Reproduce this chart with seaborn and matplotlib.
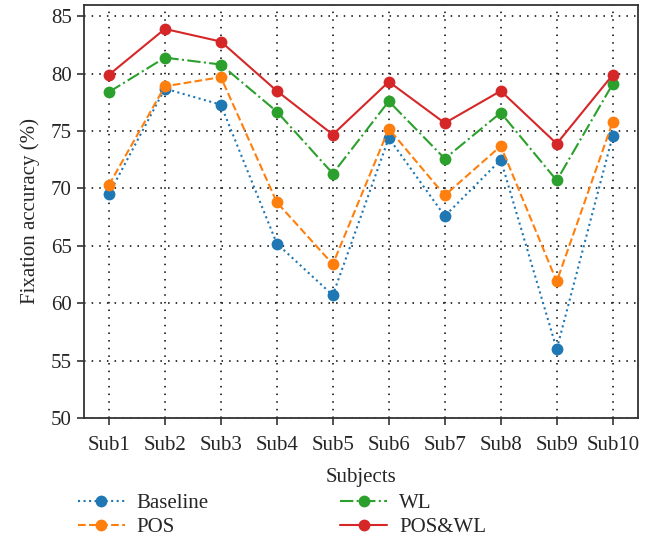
import matplotlib
matplotlib.use("Agg")
import matplotlib.pyplot as plt
import seaborn as sns
import pandas as pd

# data
subjects = ["Sub1", "Sub2", "Sub3", "Sub4", "Sub5", "Sub6", "Sub7", "Sub8", "Sub9", "Sub10"]
baseline = [69.5, 78.7, 77.3, 65.2, 60.7, 74.4, 67.6, 72.5, 56.0, 74.6]
pos = [70.3, 78.9, 79.7, 68.8, 63.4, 75.2, 69.4, 73.7, 61.9, 75.8]
wl = [78.4, 81.4, 80.8, 76.7, 71.3, 77.6, 72.6, 76.6, 70.7, 79.1]
pos_wl = [79.9, 83.9, 82.8, 78.5, 74.7, 79.3, 75.7, 78.5, 73.9, 79.9]

sns.set_style("white")
plt.rcParams["font.family"] = ["Liberation Serif", "DejaVu Serif"]
plt.rcParams["font.size"] = 15

fig, ax = plt.subplots(figsize=(6.59, 5.36), dpi=100)
fig.subplots_adjust(left=0.127, right=0.968, top=0.991, bottom=0.22)

series = [
    ("Baseline", baseline, "#1f77b4", ":"),
    ("POS", pos, "#ff7f0e", "--"),
    ("WL", wl, "#2ca02c", "-."),
    ("POS&WL", pos_wl, "#d62728", "-"),
]
for name, vals, col, ls in series:
    df = pd.DataFrame({"Subjects": subjects, "acc": vals})
    sns.lineplot(data=df, x="Subjects", y="acc", ax=ax, color=col, linestyle=ls,
                 marker="o", markersize=8.5, markeredgewidth=0, linewidth=1.5,
                 label=name, sort=False)

ax.set_xlim(-0.45, 9.45)
ax.set_ylim(50, 86)
ax.set_yticks(range(50, 86, 5))
ax.set_xlabel("Subjects", fontsize=15, labelpad=9)
ax.set_ylabel("Fixation accuracy (%)", fontsize=15, labelpad=8)
ax.grid(True, linestyle=(0, (1, 4)), color="black", linewidth=1.1)
ax.tick_params(axis="both", direction="out", length=5, width=1.2, labelsize=15,
               bottom=True, left=True, color="#333333")
ax.tick_params(axis="x", pad=8)
for s in ax.spines.values():
    s.set_color("#333333")
    s.set_linewidth(1.3)

ax.get_legend().remove()
handles, labels = ax.get_legend_handles_labels()
fig.legend(handles, labels, loc="upper left", bbox_to_anchor=(0.118, 0.079), ncol=2,
           frameon=False, fontsize=15, handlelength=2.25, handletextpad=0.58,
           columnspacing=6.3, labelspacing=0.2, borderpad=0, borderaxespad=0)

fig.savefig("out.png", dpi=100)
